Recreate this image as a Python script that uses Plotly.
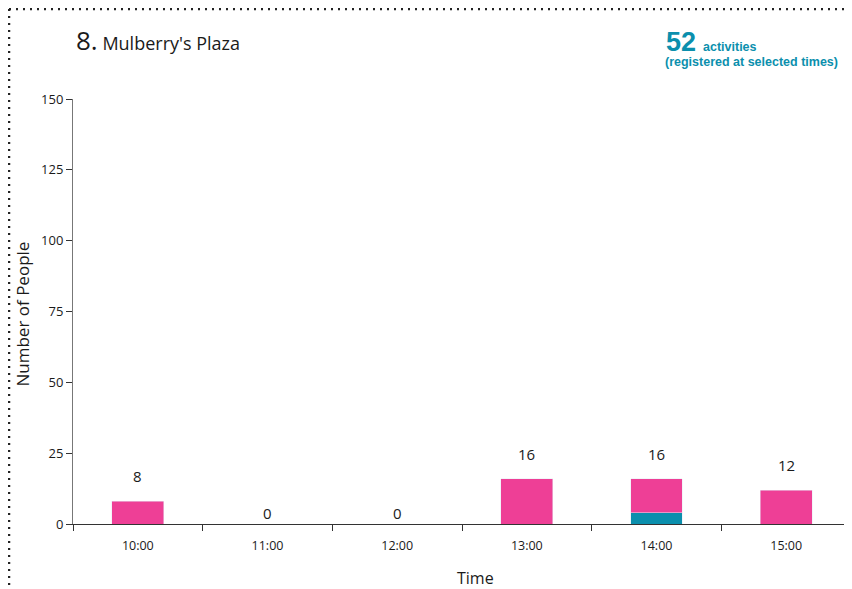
import plotly.graph_objects as go

times = ["10:00", "11:00", "12:00", "13:00", "14:00", "15:00"]
teal_vals = [0, 0, 0, 0, 4, 0]
pink_vals = [8, 0, 0, 16, 12, 12]
totals = [t + p for t, p in zip(teal_vals, pink_vals)]
y_ticks = [0, 25, 50, 75, 100, 125, 150]

PINK = "#ee3f96"
TEAL = "#0b8fad"
TXT = "#1a1a1a"
FONT = "Open Sans"

fig = go.Figure()
fig.add_trace(go.Bar(x=times, y=teal_vals, marker_color=TEAL, width=0.4, hoverinfo="skip"))
fig.add_trace(go.Bar(x=times, y=pink_vals, marker_color=PINK, width=0.4, hoverinfo="skip"))

annotations = []
for t, tot in zip(times, totals):
    annotations.append(dict(x=t, y=tot, xref="x", yref="y", text=str(tot), showarrow=False,
                            yanchor="bottom", yshift=(13 if tot > 0 else -1),
                            font=dict(family=FONT, size=15, color=TXT)))

annotations += [
    dict(xref="paper", yref="paper", x=0, y=1, xshift=1, yshift=59, xanchor="left", yanchor="middle",
         text="<span style='font-size:26px'>8.</span> Mulberry's Plaza", showarrow=False,
         font=dict(family=FONT, size=18, color=TXT)),
    dict(xref="paper", yref="paper", x=1, y=1, xshift=-187, yshift=57, xanchor="left", yanchor="middle",
         text="<b><span style='font-size:27px'>52</span></b>  <b>activities</b>", showarrow=False,
         font=dict(family="Liberation Sans", size=12.5, color=TEAL)),
    dict(xref="paper", yref="paper", x=1, y=1, xshift=-188, yshift=37, xanchor="left", yanchor="middle",
         text="<b>(registered at selected times)</b>", showarrow=False,
         font=dict(family="Liberation Sans", size=12.5, color=TEAL)),
    dict(xref="paper", yref="paper", x=0, y=0.5, xshift=-51, yshift=-3, xanchor="center", yanchor="middle",
         text="Number of People", textangle=-90, showarrow=False,
         font=dict(family=FONT, size=17, color=TXT)),
    dict(xref="paper", yref="paper", x=0.5, y=0, xshift=13, yshift=-54, xanchor="center", yanchor="middle",
         text="Time", showarrow=False, font=dict(family=FONT, size=16, color=TXT)),
]

LX = -64 / 778
TY = 1 + 90 / 425
shapes = [
    dict(type="line", xref="paper", yref="paper", x0=LX, x1=1.01, y0=TY, y1=TY,
         line=dict(color="#222", width=2.5, dash="2px,5px")),
    dict(type="line", xref="paper", yref="paper", x0=LX, x1=LX, y0=TY, y1=-0.16,
         line=dict(color="#222", width=2.5, dash="2px,5px")),
]

fig.update_layout(
    width=844, height=581,
    margin=dict(l=65, r=1, t=91, b=65),
    barmode="stack", showlegend=False,
    plot_bgcolor="white", paper_bgcolor="white",
    annotations=annotations, shapes=shapes,
    xaxis=dict(type="category", tickson="boundaries", ticks="outside", ticklen=6, tickcolor="#333",
               showline=True, linecolor="#333", linewidth=1, showgrid=False, ticklabelstandoff=10,
               tickfont=dict(family=FONT, size=12.5, color=TXT)),
    yaxis=dict(range=[0, 150], tickvals=y_ticks, ticks="outside", ticklen=6, tickcolor="#333",
               showline=True, linecolor="#777", linewidth=1, showgrid=False, zeroline=False,
               tickfont=dict(family=FONT, size=13, color=TXT)),
)

fig.write_html("out.html")
